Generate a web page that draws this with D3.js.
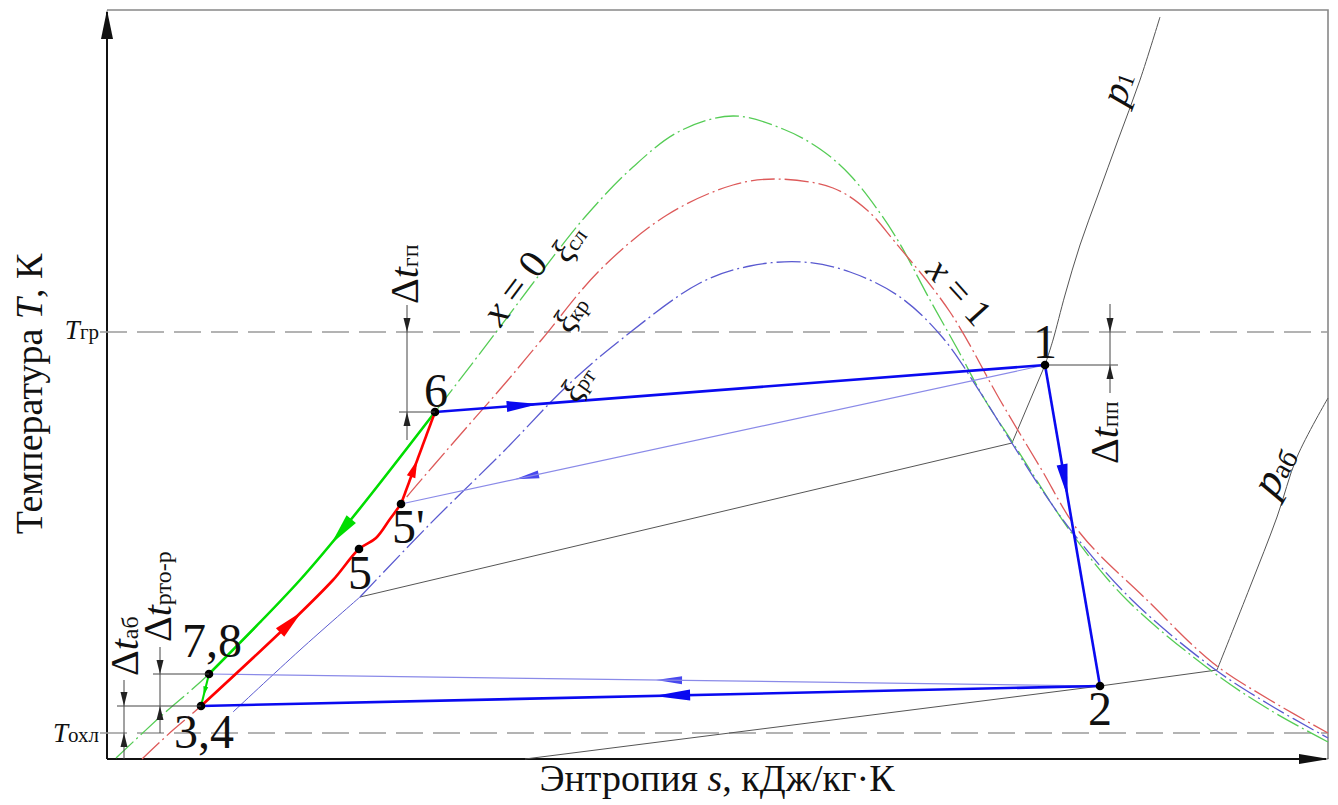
<!DOCTYPE html>
<html>
<head>
<meta charset="utf-8">
<script src="https://cdn.jsdelivr.net/npm/d3@7/dist/d3.min.js"></script>
<style>
  html, body { margin: 0; padding: 0; background: #fff; }
  svg { display: block; }
  text { font-family: "Liberation Serif", "Times New Roman", serif; fill: #111; }
</style>
</head>
<body>
<svg id="ts" width="1338" height="805"></svg>
<script>
// ---- State points of the cycle (entropy s, temperature T) ----
const stateLabels = ["1", "2", "3,4", "7,8", "6", "5'", "5"];
const stateS = [9.38, 9.93, 0.94, 1.02, 3.28, 2.94, 2.52];
const stateT = [319.4, 287.3, 285.3, 288.5, 314.7, 305.5, 301.0];

// ---- Reference temperatures ----
const T_gr = 322.7;   // heat source
const T_ohl = 282.6;  // coolant

// ---- Saturation curves (liquid branch x = 0 ... vapour branch x = 1) ----
const domeSl = [[0.09,280.1],[0.53,284.2],[1.02,288.5],[1.93,297.9],[2.46,304.2],[3.28,314.7],
  [3.93,323.2],[4.36,328.9],[4.78,334.2],[5.26,339.2],[5.73,342.8],[6.26,344.3],[6.76,343.0],
  [7.13,341.0],[7.43,338.4],[7.73,334.6],[7.93,331.5],[8.23,325.9],[8.51,320.9],[8.78,315.9],
  [9.06,311.6],[9.66,302.4],[10.20,295.9],[11.06,288.7],[11.63,284.9],[12.21,281.7]];
const domeKr = [[0.35,280.0],[0.66,282.9],[0.94,285.3],[1.83,293.6],[2.26,297.9],[2.52,301.0],
  [2.69,302.1],[2.83,304.0],[2.94,305.5],[3.40,310.9],[4.01,317.9],[4.36,322.1],[4.93,328.9],
  [5.60,334.4],[6.26,337.4],[6.70,338.0],[7.26,337.1],[7.60,334.9],[7.88,331.7],[8.43,324.7],
  [8.93,315.9],[9.33,309.2],[9.73,302.6],[10.40,295.9],[11.06,289.6],[11.63,285.9],[12.21,282.6]];
const domeRt = [[1.26,284.7],[1.93,290.9],[2.53,296.2],[3.23,303.5],[3.98,310.9],[4.61,317.4],
  [5.16,322.1],[5.93,327.6],[6.43,329.3],[6.96,329.7],[7.43,328.7],[7.93,326.2],[8.36,322.1],
  [8.73,316.7],[9.03,311.9],[9.33,307.2],[9.66,302.6],[10.25,295.9],[11.06,289.1],[11.63,285.4],
  [12.21,282.1]];

// ---- Isobars ----
const isobarP1Vapor = [[10.53,354.2],[10.33,347.9],[10.11,341.9],[9.91,336.4],[9.73,331.4],
  [9.58,326.4],[9.46,321.9],[9.38,319.4]];
const isobarP1Wet = [[9.38,319.4],[9.05,311.6],[2.53,296.2]];
const isobarPabVapor = [[12.21,316.1],[11.90,310.2],[11.70,304.2],[11.43,297.2],[11.10,288.9]];
const isobarPabWet = [[11.10,288.9],[9.93,287.3],[4.18,280.0]];

const sDomain = [0, 12.21];
const tDomain = [280, 354.9];

// ---- Scales ----
const svg = d3.select("#ts");
const x = d3.scaleLinear().domain(sDomain).range([107, 1328]);
const y = d3.scaleLinear().domain(tDomain).range([759, 10]);

const P = i => [stateS[i], stateT[i]];
const smooth = d3.line().x(d => x(d[0])).y(d => y(d[1])).curve(d3.curveCatmullRom.alpha(0.5));
const straight = d3.line().x(d => x(d[0])).y(d => y(d[1]));

const COL = {
  green: "#00dd00", red: "#ff0000", blue: "#0a0af0",
  greenD: "#55cc55", redD: "#dd5a5a", blueD: "#5a5ad0",
  thinBlue: "#8a8ae8", gray: "#555", dash: "#9a9a9a"
};

// ---- Frame and axes ----
const frame = svg.append("g");
frame.append("path").attr("d", `M107,10 H1328 V759`).attr("fill", "none")
  .attr("stroke", "#888").attr("stroke-width", 1.6);
frame.append("line").attr("x1", 107).attr("y1", 12).attr("x2", 107).attr("y2", 759)
  .attr("stroke", "#111").attr("stroke-width", 2);
frame.append("line").attr("x1", 107).attr("y1", 759).attr("x2", 1326).attr("y2", 759)
  .attr("stroke", "#111").attr("stroke-width", 2);
frame.append("polygon").attr("points", "107,10 101,39 113,39").attr("fill", "#111");
frame.append("polygon").attr("points", "1329,759 1299,754 1299,764").attr("fill", "#111");

// ---- Reference temperature lines ----
[T_gr, T_ohl].forEach(t => {
  svg.append("line").attr("x1", 100).attr("x2", 1328).attr("y1", y(t)).attr("y2", y(t))
    .attr("stroke", COL.dash).attr("stroke-width", 1.6).attr("stroke-dasharray", "27,10");
});

// ---- Isobars p1 and p_аб ----
const iso = svg.append("g").attr("fill", "none").attr("stroke", COL.gray).attr("stroke-width", 1);
iso.append("path").attr("d", smooth(isobarP1Vapor));
iso.append("path").attr("d", straight(isobarP1Wet));
iso.append("path").attr("d", smooth(isobarPabVapor));
iso.append("path").attr("d", straight(isobarPabWet));

// ---- Saturation domes ----
const domes = svg.append("g").attr("fill", "none").attr("stroke-width", 1.3)
  .attr("stroke-dasharray", "24,4,2,4");
domes.append("path").attr("d", smooth(domeSl)).attr("stroke", COL.greenD);
domes.append("path").attr("d", smooth(domeKr)).attr("stroke", COL.redD);
domes.append("path").attr("d", smooth(domeRt.slice(2))).attr("stroke", COL.blueD);
svg.append("path").attr("d", smooth(domeRt.slice(0, 3))).attr("fill", "none")
  .attr("stroke", COL.blueD).attr("stroke-width", 1);

// ---- Arrow helper ----
const arrows = svg.append("g");
function arrowOnPath(node, dist, len, wid, color) {
  const tip = node.getPointAtLength(dist);
  const tail = node.getPointAtLength(Math.max(0, dist - len));
  const a = Math.atan2(tip.y - tail.y, tip.x - tail.x);
  const ux = Math.cos(a), uy = Math.sin(a);
  const bx = tip.x - ux * len, by = tip.y - uy * len;
  const pts = [[tip.x, tip.y], [bx - uy * wid / 2, by + ux * wid / 2], [bx + uy * wid / 2, by - ux * wid / 2]];
  arrows.append("polygon").attr("points", pts.map(p => p.join(",")).join(" ")).attr("fill", color);
}

// ---- Regenerative (thin) lines ----
const thin = svg.append("g").attr("fill", "none").attr("stroke", COL.thinBlue).attr("stroke-width", 1.2);
const t15 = thin.append("path").attr("d", straight([P(0), P(5)]));
const t278 = thin.append("path").attr("d", straight([P(1), P(3)]));

// ---- Cycle process lines ----
const proc = svg.append("g").attr("fill", "none").attr("stroke-width", 2.6)
  .attr("stroke-linejoin", "round");
const gMain = proc.append("path").attr("d", smooth(domeSl.slice(2, 6).reverse())).attr("stroke", COL.green);
const gShort = proc.append("path").attr("d", straight([P(3), P(2)])).attr("stroke", COL.green).attr("stroke-width", 2);
const rMain = proc.append("path").attr("d", smooth(domeKr.slice(2, 9))).attr("stroke", COL.red);
const rTop = proc.append("path").attr("d", straight([P(5), P(4)])).attr("stroke", COL.red);
const b61 = proc.append("path").attr("d", straight([P(4), P(0)])).attr("stroke", COL.blue);
const b12 = proc.append("path").attr("d", straight([P(0), P(1)])).attr("stroke", COL.blue);
const b234 = proc.append("path").attr("d", straight([P(1), P(2)])).attr("stroke", COL.blue);

arrowOnPath(b61.node(), 104, 32, 11, COL.blue);
arrowOnPath(b12.node(), 134, 33, 11, COL.blue);
arrowOnPath(b234.node(), 446, 36, 11, COL.blue);
arrowOnPath(t15.node(), 542, 24, 8, "#4848ee");
arrowOnPath(t278.node(), 444, 26, 8, "#4848ee");
arrowOnPath(gMain.node(), 168, 32, 12, COL.green);
arrowOnPath(rMain.node(), 138, 30, 12, COL.red);
arrowOnPath(rTop.node(), 47, 18, 9, COL.red);
arrowOnPath(gShort.node(), 22, 9, 5, COL.green);

// ---- State points ----
svg.append("g").selectAll("circle").data(stateLabels).join("circle")
  .attr("cx", (d, i) => x(stateS[i])).attr("cy", (d, i) => y(stateT[i]))
  .attr("r", 4.3).attr("fill", "#000");

// label offsets (px) and anchors
const labelPlace = {
  "1": [0, -7, "middle"], "2": [0, 39, "middle"], "3,4": [3, 42, "middle"],
  "7,8": [3, -17, "middle"], "6": [1, -5, "middle"], "5'": [-9, 39, "start"], "5": [1, 40, "middle"]
};
svg.append("g").selectAll("text").data(stateLabels).join("text")
  .attr("x", (d, i) => x(stateS[i]) + labelPlace[d][0])
  .attr("y", (d, i) => y(stateT[i]) + labelPlace[d][1])
  .attr("text-anchor", d => labelPlace[d][2])
  .style("font-size", "48px")
  .text(d => d);

// ---- Dimension marks ----
const dim = svg.append("g").attr("stroke", "#444").attr("stroke-width", 1);
function dimArrow(px, py, dir) { // dir: +1 points down, -1 points up
  svg.append("polygon")
    .attr("points", `${px},${py} ${px - 3.5},${py - dir * 14} ${px + 3.5},${py - dir * 14}`)
    .attr("fill", "#222");
}
function dimension(px, tHigh, tLow, extAbove, extBelow) {
  const yh = y(tHigh), yl = y(tLow);
  dim.append("line").attr("x1", px).attr("x2", px).attr("y1", yh - extAbove).attr("y2", yl + extBelow);
  dimArrow(px, yh, +1);
  dimArrow(px, yl, -1);
}
// Δt_гп : between T_гр and state 6
dimension(407, T_gr, stateT[4], 27, 28);
dim.append("line").attr("x1", 399).attr("x2", x(stateS[4])).attr("y1", y(stateT[4])).attr("y2", y(stateT[4]));
// Δt_пп : between T_гр and state 1
dimension(1110, T_gr, stateT[0], 28, 28);
dim.append("line").attr("x1", x(stateS[0]) + 4).attr("x2", 1118).attr("y1", y(stateT[0])).attr("y2", y(stateT[0]));
// Δt_аб : between state 3,4 and T_охл
dimension(124, stateT[2], T_ohl, 26, 26);
dim.append("line").attr("x1", 117).attr("x2", x(stateS[2])).attr("y1", y(stateT[2])).attr("y2", y(stateT[2]));
// Δt_рто-р : between state 7,8 and state 3,4
dimension(160, stateT[3], stateT[2], 27, 27);
dim.append("line").attr("x1", 153).attr("x2", x(stateS[3])).attr("y1", y(stateT[3])).attr("y2", y(stateT[3]));

// ---- Text helpers ----
function richText(parent, transform, parts, anchor) {
  const t = parent.append("text").attr("transform", transform);
  parts.forEach(p => {
    t.append("tspan").text(p.t).style("font-size", p.size + "px")
      .style("font-style", p.it ? "italic" : "normal");
  });
  // place by measured length so mixed-size runs anchor reliably
  const len = t.node().getComputedTextLength();
  const shift = anchor === "middle" ? -len / 2 : anchor === "end" ? -len : 0;
  t.attr("x", shift);
  return t;
}

// Δt labels (vertical)
richText(svg, "translate(418,304) rotate(-90)", [{t: "Δ", size: 40}, {t: "t", size: 40, it: true}, {t: "гп", size: 24}]);
richText(svg, "translate(1118,464) rotate(-90)", [{t: "Δ", size: 40}, {t: "t", size: 40, it: true}, {t: "пп", size: 24}]);
richText(svg, "translate(138,676) rotate(-90)", [{t: "Δ", size: 40}, {t: "t", size: 40, it: true}, {t: "аб", size: 24}]);
richText(svg, "translate(171,642) rotate(-90)", [{t: "Δ", size: 40}, {t: "t", size: 40, it: true}, {t: "рто-р", size: 24}]);

// temperature labels at the axis
richText(svg, `translate(99,${y(T_gr) + 7})`, [{t: "T", size: 27, it: true}, {t: "гр", size: 21}], "end");
richText(svg, `translate(99,${y(T_ohl) + 9})`, [{t: "T", size: 27, it: true}, {t: "охл", size: 21}], "end");

// curve labels
richText(svg, "translate(525,296) rotate(-53)", [{t: "x", size: 40, it: true}, {t: " = 0", size: 40}], "middle");
richText(svg, "translate(950,300) rotate(48)", [{t: "x", size: 38, it: true}, {t: " = 1", size: 38}], "middle");
richText(svg, "translate(578,250) rotate(-55)", [{t: "ξ", size: 34, it: true}, {t: "сл", size: 22}], "middle");
richText(svg, "translate(580,320) rotate(-55)", [{t: "ξ", size: 34, it: true}, {t: "кр", size: 22}], "middle");
richText(svg, "translate(587,390) rotate(-55)", [{t: "ξ", size: 34, it: true}, {t: "рт", size: 22}], "middle");
richText(svg, "translate(1130,92) rotate(-70)", [{t: "p", size: 40, it: true}, {t: "1", size: 24}], "middle");
richText(svg, "translate(1287,478) rotate(-60)", [{t: "p", size: 44, it: true}, {t: "аб", size: 28}], "middle");

// axis titles
richText(svg, "translate(42,394) rotate(-90)", [{t: "Температура ", size: 38}, {t: "T", size: 38, it: true}, {t: ", К", size: 38}], "middle");
richText(svg, "translate(717,791)", [{t: "Энтропия ", size: 38}, {t: "s", size: 38, it: true}, {t: ", кДж/кг·К", size: 38}], "middle");
</script>
</body>
</html>
